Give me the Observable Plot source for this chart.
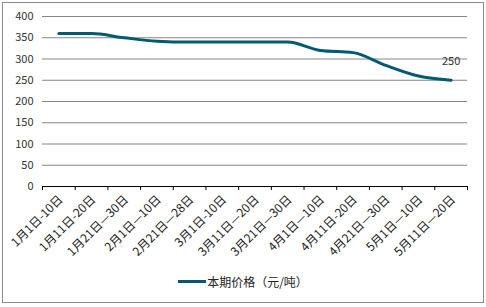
<!DOCTYPE html>
<html>
<head>
<meta charset="utf-8">
<script src="https://cdn.jsdelivr.net/npm/d3@7"></script>
<script src="https://cdn.jsdelivr.net/npm/@observablehq/plot@0.6"></script>
<style>
  html, body { margin: 0; padding: 0; background: #fff; }
  #wrap { position: relative; width: 486px; height: 307px; overflow: hidden;
          font-family: "Noto Sans CJK SC", "Noto Sans", sans-serif; }
  #border { position: absolute; left: 2px; top: 2px; width: 480px; height: 299px;
            border: 1px solid #8c8c8c; pointer-events: none; }
  #legend { position: absolute; left: 0; top: 271px; width: 486px; text-align: center;
            font-size: 12px; color: #222; }
  #legend .sw { display: inline-block; width: 28px; height: 3px; background: #005a70;
                vertical-align: middle; margin-right: 1px; }
  #legend span.t { vertical-align: middle; }
</style>
</head>
<body>
<div id="wrap"><div id="chart"></div><div id="legend"><span class="sw"></span><span class="t">本期价格（元/吨）</span></div><div id="border"></div></div>
<script>
const categories = ["1月1日-10日","1月11日-20日","1月21日—30日","2月1日—10日","2月21日—28日","3月1日-10日","3月11日—20日","3月21日—30日","4月1日—10日","4月11日-20日","4月21日—30日","5月1日—10日","5月11日—20日"];
const prices = [360, 360, 350, 342, 340, 340, 340, 340, 320, 315, 285, 260, 250];
const yTicks = [0, 50, 100, 150, 200, 250, 300, 350, 400];
const lastLabel = "250";

const data = categories.map((c, i) => ({i, c, v: prices[i]}));
const boundaries = d3.range(categories.length + 1).map(i => i - 0.5);

const plot = Plot.plot({
  width: 486,
  height: 268,
  marginLeft: 42,
  marginRight: 19,
  marginTop: 16,
  marginBottom: 82,
  style: {fontFamily: '"Noto Sans CJK SC", "Noto Sans", sans-serif', fontSize: "11px", color: "#333", position: "absolute", left: "0px", top: "0px"},
  x: {domain: [-0.5, categories.length - 0.5], axis: null},
  y: {domain: [0, 400], axis: null},
  marks: [
    Plot.gridY(yTicks.filter(t => t > 0), {stroke: "#868686", strokeOpacity: 1}),
    Plot.axisY(yTicks, {tickSize: 0, tickPadding: 9, fontSize: 11, fill: "#333", label: null}),
    Plot.ruleY([0], {stroke: "#000", strokeWidth: 1}),
    Plot.ruleX(boundaries, {y1: 0, y2: -9.5, stroke: "#000"}),
    Plot.axisX(d3.range(categories.length), {
      tickSize: 0, tickPadding: 11, tickRotate: -45, label: null,
      tickFormat: i => categories[i], fontSize: 12, fill: "#222", dx: 2, dy: 0
    }),
    Plot.line(data, {x: "i", y: "v", stroke: "#005a70", strokeWidth: 3, curve: "monotone-x"}),
    Plot.text([data[data.length - 1]], {x: "i", y: "v", text: () => lastLabel, dy: -19, dx: 0, fontSize: 11, fill: "#333"})
  ]
});
document.getElementById("chart").appendChild(plot);
</script>
</body>
</html>
